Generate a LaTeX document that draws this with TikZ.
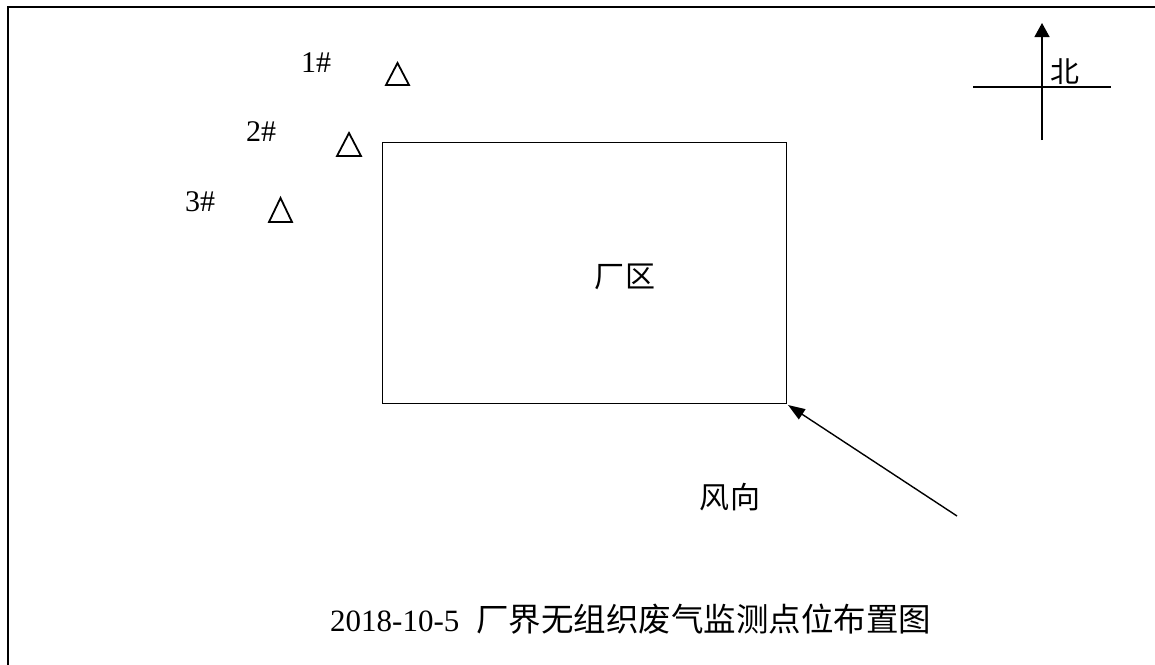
\documentclass[tikz,border=0pt]{standalone}
\usepackage{fontspec}
\setmainfont{Liberation Serif}
\newfontfamily\cjk{Noto Sans CJK SC}
\usetikzlibrary{arrows.meta}
\begin{document}
\begin{tikzpicture}[x=1pt,y=-1pt,
  lbl/.style={inner sep=0pt,font=\fontsize{30}{34}\selectfont},
  cjklbl/.style={inner sep=0pt,font=\cjk\fontsize{30}{34}\selectfont},
  tri/.style={line width=1.8pt,line join=miter},
  thin/.style={line width=1.4pt}]
\useasboundingbox (0,0) rectangle (1155,664);
\begin{scope}
\clip (0,0) rectangle (1155,664);
\draw[line width=2.5pt] (8,7) rectangle (1170,680);
\end{scope}
% plant
\node[draw,thin,minimum width=404pt,minimum height=261pt,inner sep=0pt,anchor=north west] (plant) at (382,142) {};
\node[cjklbl] (plantlbl) at (625,277) {厂\kern2pt 区};
% monitoring points
\draw[tri] (386,85) -- (409,85) -- (397.5,63) -- cycle;
\draw[tri] (337,156) -- (361,156) -- (349,133) -- cycle;
\draw[tri] (269,222) -- (292,222) -- (280.5,198) -- cycle;
\node[lbl,anchor=base west] (p1) at (301,72) {1\#};
\node[lbl,anchor=base west] (p2) at (246,141) {2\#};
\node[lbl,anchor=base west] (p3) at (185,211) {3\#};
% compass
\coordinate (ntop) at (1042,23);
\coordinate (nbot) at (1042,140);
\coordinate (wl) at (973,87);
\coordinate (el) at (1111,87);
\draw[thin,-{Triangle[length=14pt,width=15pt]}] (nbot) -- (ntop);
\draw[thin] (wl) -- (el);
\node[cjklbl,font=\cjk\fontsize{29}{33}\selectfont] (north) at (1064.5,72) {北};
% wind
\coordinate (windtail) at (957,516);
\coordinate (windtip) at (788,405);
\draw[thin,-{Triangle[length=17pt,width=12pt]}] (windtail) -- (windtip);
\node[cjklbl] (wind) at (730,497) {风\kern1pt 向};
% title
\node[inner sep=0pt,anchor=base west,font=\fontsize{31}{36}\selectfont] (title) at (330,631)
 {2018-10-5\hspace{17pt}{\cjk\fontsize{32.5}{36}\selectfont 厂界无组织废气监测点位布置图}};
\end{tikzpicture}
\end{document}
